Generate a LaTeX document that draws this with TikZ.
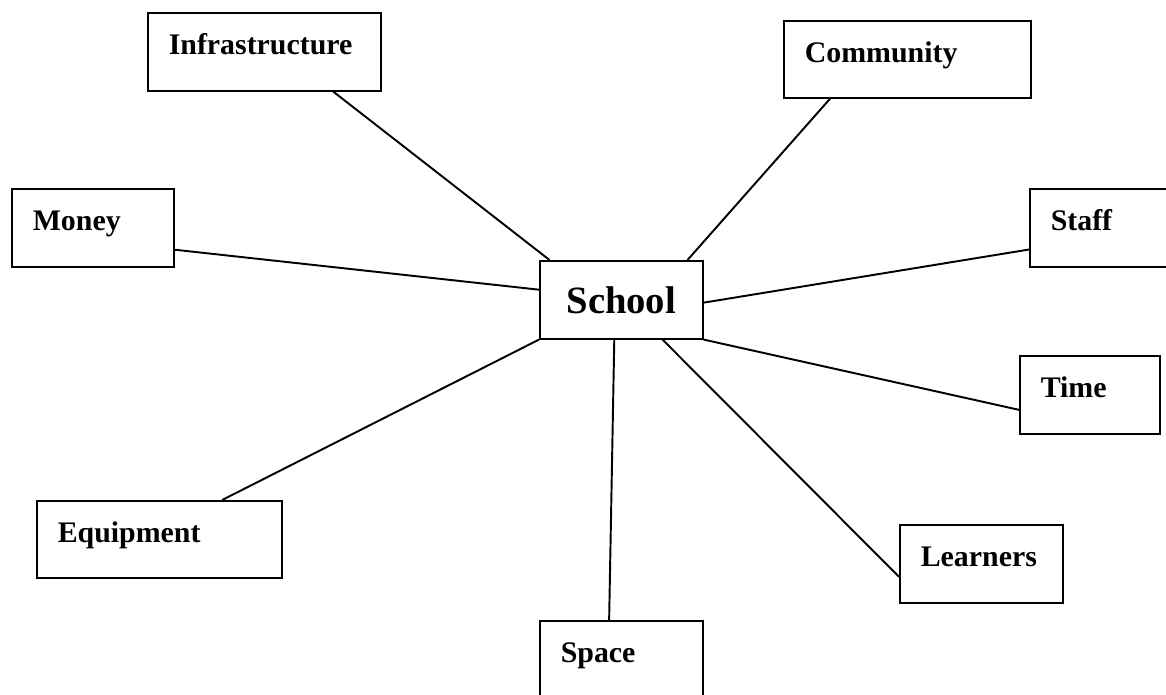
\documentclass[tikz,border=0pt]{standalone}
\usepackage{fontspec}
\setmainfont{Liberation Serif}
\usetikzlibrary{positioning}

\tikzset{
  cell/.style 2 args={draw, line width=0.9pt, anchor=north west, align=left,
    inner xsep=21*0.02cm, inner ysep=0pt,
    text width={(#1-42)*0.02cm}, text height=42*0.02cm, text depth={(#2-42)*0.02cm},
    font=\bfseries\fontsize{17}{20}\selectfont},
  hub/.style={draw, line width=0.9pt, anchor=north west, inner sep=0pt,
    minimum width=163*0.02cm, minimum height=78*0.02cm,
    font=\bfseries\fontsize{22}{26}\selectfont},
  link/.style={draw, line width=1.1pt}
}

\begin{document}
\begin{tikzpicture}[x=0.02cm,y=-0.02cm]
\useasboundingbox (0,0) rectangle (1166,695);
\clip (0,0) rectangle (1166,695);

% centre box
\node[hub] (school) at (539,260) {School};

% boxes around it
\node[cell={233}{78}] (infra) at (147,12) {Infrastructure};
\node[cell={247}{77}] (community) at (783,20) {Community};
\node[cell={162}{78}] (money) at (11,188) {Money};
\node[cell={150}{78}] (staff) at (1029,188) {Staff};
\node[cell={140}{78}] (time) at (1019,355) {Time};
\node[cell={245}{77}] (equipment) at (36,500) {Equipment};
\node[cell={163}{78}] (learners) at (899,524) {Learners};
\node[cell={163}{78}] (space) at (539,620) {Space};

\path[link]
  (school.151.7) edge (infra.-30.4)
  (school.31.2)  edge (community.207.3)
  (school.173)   edge (money.-15.9)
  (school.-2.1)  edge (staff.196.3)
  (school.south east) edge (time.192.5)
  (school.south west) edge (equipment.32.5)
  (school.260.5) edge (space.107.8)
  (school.316)   edge (learners.189.7)
  ;
\end{tikzpicture}
\end{document}
